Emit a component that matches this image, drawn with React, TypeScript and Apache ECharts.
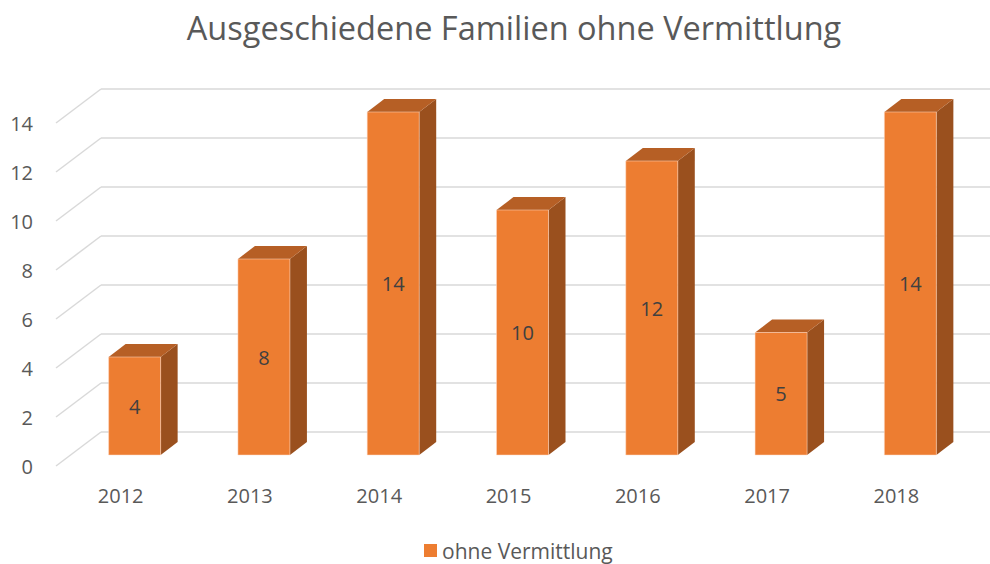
import React, { useEffect, useRef } from "react";
import * as echarts from "echarts";

const categories = ["2012", "2013", "2014", "2015", "2016", "2017", "2018"];
const values = [4, 8, 14, 10, 12, 5, 14];
const yTicks = [0, 2, 4, 6, 8, 10, 12, 14];
const seriesName = "ohne Vermittlung";
const titleText = "Ausgeschiedene Familien ohne Vermittlung";

const FONT = "'Open Sans', 'Noto Sans', sans-serif";
const FRONT = "#ED7D31";
const TOP = "#B65F25";
const SIDE = "#9A501E";
const GRIDC = "#D9D9D9";

// perspective offsets (presentation only), relative to the front-floor grid
const BAR_DX = 14;
const BAR_DY = -11;
const BAR_W = 52;
const DEPTH_X = 17;
const DEPTH_Y = -13;
const AXIS_DX = -45;
const AXIS_DY = 34;

export default function App() {
  const ref = useRef<HTMLDivElement>(null);
  useEffect(() => {
    if (!ref.current) return;
    const chart = echarts.init(ref.current, undefined, { renderer: "svg" });
    const option: any = {
      animation: false,
      backgroundColor: "#ffffff",
      title: {
        text: titleText,
        left: 514,
        textAlign: "center",
        top: 11,
        padding: 0,
        textStyle: { fontFamily: FONT, fontSize: 32.5, fontWeight: "normal", color: "#595959" },
      },
      legend: {
        data: [seriesName],
        left: 424,
        top: 540,
        icon: "rect",
        itemWidth: 13,
        itemHeight: 13,
        itemGap: 6,
        padding: 0,
        textStyle: { fontFamily: FONT, fontSize: 21, color: "#595959", padding: [0, 0, 0, 0] },
      },
      grid: [
        { left: 101, top: 89, right: 0, height: 343, containLabel: false },
        { left: 56, top: 123, width: 905, height: 343, containLabel: false },
      ],
      xAxis: [
        {
          gridIndex: 0,
          type: "category",
          data: categories,
          boundaryGap: true,
          axisLine: { show: false },
          axisTick: { show: false },
          axisLabel: { show: false },
        },
        {
          gridIndex: 1,
          type: "category",
          data: categories,
          boundaryGap: true,
          axisLine: { show: false },
          axisTick: { show: false },
          axisLabel: { show: true, margin: 19, fontFamily: FONT, fontSize: 20, color: "#595959" },
        },
      ],
      yAxis: [
        {
          gridIndex: 0,
          type: "value",
          min: 0,
          max: 14,
          interval: 2,
          axisLine: { show: false },
          axisTick: { show: false },
          axisLabel: { show: false },
          splitLine: { show: true, lineStyle: { color: GRIDC, width: 1.5 } },
        },
        {
          gridIndex: 1,
          type: "value",
          min: 0,
          max: 14,
          interval: 2,
          axisLine: { show: false },
          axisTick: { show: false },
          axisLabel: { show: true, margin: 23, fontFamily: FONT, fontSize: 20, color: "#595959" },
          splitLine: { show: false },
        },
      ],
      series: [
        {
          type: "custom",
          name: "grid-diagonals",
          xAxisIndex: 0,
          yAxisIndex: 0,
          silent: true,
          clip: false,
          z: 1,
          data: yTicks.map((t) => [0, t]),
          renderItem: (params: any, api: any) => {
            const cs = params.coordSys;
            const p = api.coord([0, api.value(1)]);
            return {
              type: "line",
              shape: { x1: cs.x, y1: p[1], x2: cs.x + AXIS_DX, y2: p[1] + AXIS_DY },
              style: { stroke: GRIDC, lineWidth: 1.5 },
            };
          },
        },
        {
          type: "custom",
          name: seriesName,
          xAxisIndex: 1,
          yAxisIndex: 1,
          clip: false,
          z: 3,
          itemStyle: { color: FRONT },
          data: values.map((v, i) => [i, v]),
          renderItem: (params: any, api: any) => {
            const top = api.coord([api.value(0), api.value(1)]);
            const bot = api.coord([api.value(0), 0]);
            const cx = top[0] + BAR_DX;
            const x0 = cx - BAR_W / 2;
            const x1 = cx + BAR_W / 2;
            const yT = top[1] + BAR_DY;
            const yB = bot[1] + BAR_DY;
            return {
              type: "group",
              children: [
                {
                  type: "polygon",
                  shape: {
                    points: [
                      [x1, yT],
                      [x1 + DEPTH_X, yT + DEPTH_Y],
                      [x1 + DEPTH_X, yB + DEPTH_Y],
                      [x1, yB],
                    ],
                  },
                  style: { fill: SIDE },
                },
                {
                  type: "polygon",
                  shape: {
                    points: [
                      [x0, yT],
                      [x0 + DEPTH_X, yT + DEPTH_Y],
                      [x1 + DEPTH_X, yT + DEPTH_Y],
                      [x1, yT],
                    ],
                  },
                  style: { fill: TOP },
                },
                {
                  type: "rect",
                  shape: { x: x0, y: yT, width: BAR_W, height: yB - yT },
                  style: { fill: FRONT, stroke: "rgba(255,220,200,0.5)", lineWidth: 1 },
                },
                {
                  type: "text",
                  style: {
                    text: String(api.value(1)),
                    x: cx,
                    y: (yT + yB) / 2,
                    align: "center",
                    verticalAlign: "middle",
                    fontFamily: FONT,
                    fontSize: 20,
                    fill: "#404040",
                  },
                },
              ],
            };
          },
        },
      ],
    };
    chart.setOption(option);
    return () => chart.dispose();
  }, []);
  return (
    <div
      ref={ref}
      style={{ position: "fixed", left: 0, top: 0, width: 990, height: 564, overflow: "hidden" }}
    />
  );
}
